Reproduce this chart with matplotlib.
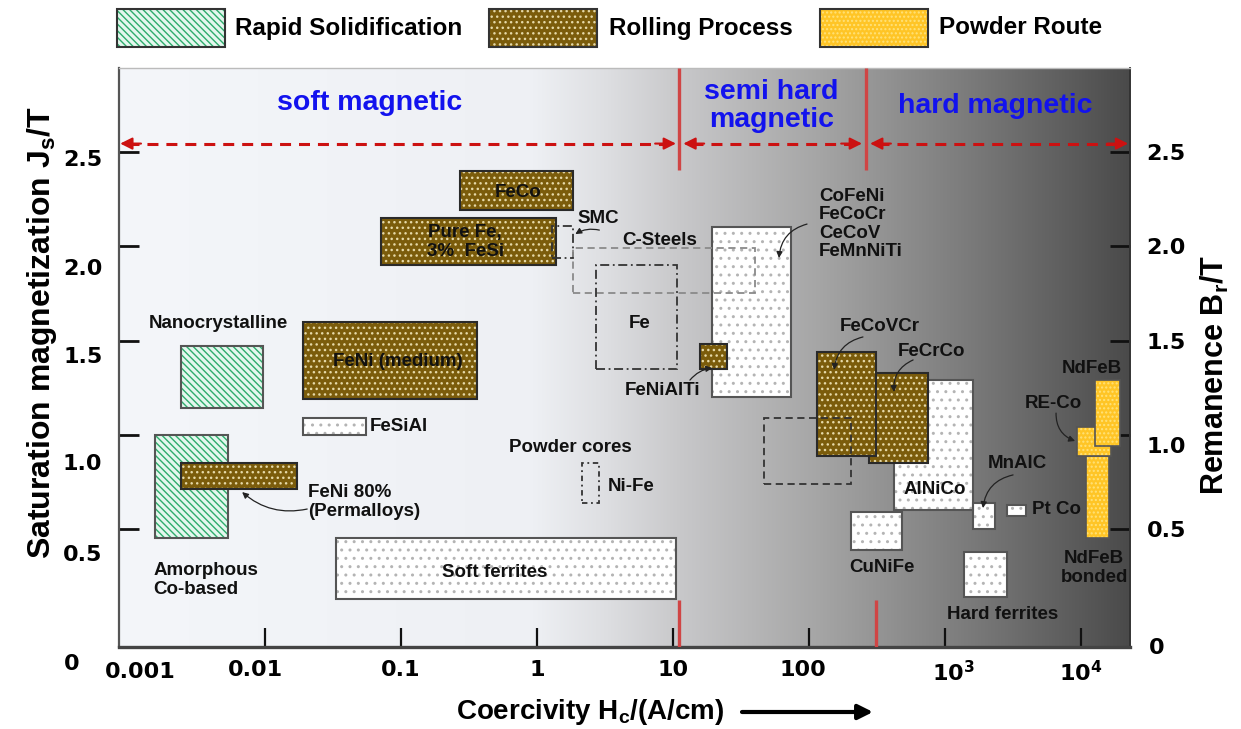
import numpy as np
import matplotlib
matplotlib.use('Agg')
import matplotlib.pyplot as plt
from matplotlib.patches import Rectangle
import matplotlib.transforms as mtransforms

plt.rcParams['font.family'] = ['Liberation Sans', 'DejaVu Sans']
plt.rcParams['font.weight'] = 'bold'
plt.rcParams['hatch.linewidth'] = 1.0

# ---------------- data: coercivity range Hc (A/cm), polarisation range J (T) ----------------
# Rapid solidification
rs_names = ['Nanocrystalline', 'Amorphous Co-based']
rs_hc = [(0.0024, 0.0097), (0.00155, 0.0053)]
rs_j = [(1.14, 1.47), (0.45, 1.00)]

# Rolling process
rp_names = ['FeCo', 'Pure Fe, 3% FeSi', 'FeNi (medium)', 'FeNi 80%', 'FeNiAlTi', 'FeCrCo', 'FeCoVCr']
rp_hc = [(0.27, 1.84), (0.071, 1.38), (0.019, 0.36), (0.0024, 0.0172), (15.8, 25.0), (275, 750), (115, 310)]
rp_j = [(2.19, 2.40), (1.90, 2.15), (1.19, 1.60), (0.71, 0.85), (1.35, 1.48), (0.85, 1.33), (0.89, 1.44)]

# Powder route
pr_names = ['NdFeB bonded', 'RE-Co', 'NdFeB']
pr_hc = [(10900, 16100), (9350, 16600), (12700, 19400)]
pr_j = [(0.45, 0.89), (0.89, 1.04), (0.94, 1.29)]

# Other materials (white dotted)
ot_names = ['FeSiAl', 'Soft ferrites', 'CoFeNi/FeCoCr/CeCoV/FeMnNiTi', 'AlNiCo', 'CuNiFe', 'MnAlC', 'Pt Co', 'Hard ferrites']
ot_hc = [(0.019, 0.055), (0.033, 10.5), (19.4, 74.0), (420, 1600), (204, 483), (1600, 2330), (2860, 3940), (1380, 2860)]
ot_j = [(1.00, 1.09), (0.13, 0.45), (1.20, 2.10), (0.60, 1.29), (0.39, 0.59), (0.50, 0.64), (0.57, 0.63), (0.14, 0.38)]

# Outlined ranges
ol_names = ['SMC', 'C-Steels', 'Fe', 'Powder cores Ni-Fe', 'unlabeled']
ol_hc = [(1.29, 1.84), (1.84, 40.1), (2.72, 10.7), (2.14, 2.86), (46.7, 204)]
ol_j = [(1.94, 2.11), (1.75, 1.99), (1.35, 1.90), (0.64, 0.85), (0.74, 1.09)]

# Region boundaries (A/cm)
bound_top = [11.0, 262]
bound_bottom = [11.0, 311]

x_ticks = [0.001, 0.01, 0.1, 1, 10, 100, 1000, 10000]
x_ticklabels = ['0.001', '0.01', '0.1', '1', '10', '100', r'10$\mathregular{^3}$', r'10$\mathregular{^4}$']
y_ticks = [0.5, 1.0, 1.5, 2.0, 2.5]
y_ticklabels = ['0.5', '1.0', '1.5', '2.0', '2.5']

# ---------------- styles ----------------
BROWN = '#7b5c0b'
BROWN_DOT = '#e6d9a8'
GOLD = '#ffc526'
GOLD_DOT = '#ffe27a'
GREEN_FACE = '#e4f7ee'
GREEN_HATCH = '#2eac6c'
WHITE_DOT = '#b4b4b4'
BLUE = '#1212ee'
RED = '#cc1111'
RED_LINE = '#d04545'

W, H = 1241, 729
fig = plt.figure(figsize=(W / 100, H / 100), dpi=100)
pos = [119 / W, 1 - 647 / H, (1130 - 119) / W, (647 - 68) / H]

# background gradient
bg = fig.add_axes(pos, zorder=0)
stops_f = [0, 0.41, 0.48, 0.555, 0.69, 0.83, 0.95, 1.0]
stops_v = [[244, 246, 250], [238, 240, 244], [222, 223, 226], [200, 200, 202],
           [166, 166, 166], [126, 126, 126], [90, 90, 90], [74, 74, 74]]
f = np.linspace(0, 1, 600)
grad = np.stack([np.interp(f, stops_f, [s[i] for s in stops_v]) for i in range(3)], axis=-1) / 255
bg.imshow(grad[None, :, :], extent=[0, 1, 0, 1], aspect='auto')
bg.set_axis_off()

ax = fig.add_axes(pos, zorder=1)
ax.patch.set_visible(False)
ax.set_xscale('log')


def box(hc, j, face, hatch, hcol, edge, lw=1.5, z=3):
    x0, x1 = hc
    y0, y1 = j
    ax.add_patch(Rectangle((x0, y0), x1 - x0, y1 - y0, facecolor=face, edgecolor=hcol,
                           hatch=hatch, lw=0, zorder=z))
    ax.add_patch(Rectangle((x0, y0), x1 - x0, y1 - y0, fill=False, edgecolor=edge,
                           lw=lw, zorder=z + 0.01))


# white boxes
for hc, j in zip(ot_hc, ot_j):
    box(hc, j, 'white', '..', WHITE_DOT, '#555555', lw=1.5, z=2)

# rapid solidification
for hc, j in zip(rs_hc, rs_j):
    box(hc, j, GREEN_FACE, '\\\\\\\\\\', GREEN_HATCH, '#555555', lw=1.5, z=2.5)

# rolling
rp_z = [3, 3, 3, 3.5, 3.5, 3, 3.2]
for (hc, j), z in zip(zip(rp_hc, rp_j), rp_z):
    box(hc, j, BROWN, '...', BROWN_DOT, '#2a2a2a', lw=1.5, z=z)

# powder route
pr_z = [3, 3.2, 3.4]
for (hc, j), z in zip(zip(pr_hc, pr_j), pr_z):
    box(hc, j, GOLD, '....', GOLD_DOT, '#555555', lw=1.2, z=z)

# outlined ranges
ol_style = [(0, (5, 2, 1, 2)), (0, (4, 2.5)), (0, (5, 2, 1, 2)), (0, (3, 2, 1, 2)), (0, (4, 2.5))]
ol_color = ['#333333', '#8a8a8a', '#333333', '#333333', '#333333']
for hc, j, ls, c in zip(ol_hc, ol_j, ol_style, ol_color):
    ax.add_patch(Rectangle((hc[0], j[0]), hc[1] - hc[0], j[1] - j[0], fill=False,
                           edgecolor=c, lw=1.3, ls=ls, zorder=5))

ax.set_xlim(8.43e-4, 2.29e4)
ax.set_ylim(-0.126, 2.946)

# region boundaries
for xv in bound_top:
    ax.vlines(xv, 2.405, 2.946, color=RED_LINE, lw=2.4, zorder=6)
for xv in bound_bottom:
    ax.vlines(xv, -0.126, 0.123, color=RED_LINE, lw=2.4, zorder=6)

# red dashed double arrows
y_arr = 2.545
for xa, xb in [(8.6e-4, 10.5), (11.9, 245), (281, 2.22e4)]:
    ax.plot([xa * 1.15, xb / 1.15], [y_arr, y_arr], ls=(0, (3.6, 2.6)), color=RED, lw=2.2,
            zorder=6, solid_capstyle='butt')
    ax.annotate('', xy=(xa, y_arr), xytext=(15, 0), textcoords='offset points',
                arrowprops=dict(arrowstyle='-|>', color=RED, lw=1.5, mutation_scale=18,
                                shrinkA=0, shrinkB=0), zorder=6)
    ax.annotate('', xy=(xb, y_arr), xytext=(-15, 0), textcoords='offset points',
                arrowprops=dict(arrowstyle='-|>', color=RED, lw=1.5, mutation_scale=18,
                                shrinkA=0, shrinkB=0), zorder=6)

# region titles
ax.text(0.0591, 2.76, 'soft magnetic', color=BLUE, fontsize=20.5, ha='center', va='center', zorder=7)
ax.text(52.6, 2.744, 'semi hard\nmagnetic', color=BLUE, fontsize=20.5, ha='center', va='center',
        linespacing=1.1, zorder=7)
ax.text(2333, 2.744, 'hard magnetic', color=BLUE, fontsize=20.5, ha='center', va='center', zorder=7)

# labels
FS = 13.5
lab = dict(fontsize=FS, zorder=8, color='#111111')
ax.text(0.724, 2.288, 'FeCo', ha='center', va='center', **lab)
ax.text(0.296, 2.023, 'Pure Fe,\n3%  FeSi', ha='center', va='center', linespacing=1.1, **lab)
ax.text(2.81, 2.150, 'SMC', ha='center', va='center', **lab)
ax.text(8.0, 2.033, 'C-Steels', ha='center', va='center', **lab)
ax.text(5.71, 1.593, 'Fe', ha='center', va='center', **lab)
ax.text(0.0951, 1.391, 'FeNi (medium)', ha='center', va='center', **lab)
ax.text(8.44, 1.237, 'FeNiAlTi', ha='center', va='center', **lab)
ax.text(0.00451, 1.588, 'Nanocrystalline', ha='center', va='center', **lab)
ax.text(0.0591, 1.046, 'FeSiAl', ha='left', va='center', **lab)
ax.text(0.0207, 0.643, 'FeNi 80%\n(Permalloys)', ha='left', va='center', linespacing=1.1, **lab)
ax.text(0.0015, 0.229, 'Amorphous\nCo-based', ha='left', va='center', linespacing=1.1, **lab)
ax.text(1.75, 0.930, 'Powder cores', ha='center', va='center', **lab)
ax.text(3.33, 0.728, 'Ni-Fe', ha='left', va='center', **lab)
ax.text(0.491, 0.267, 'Soft ferrites', ha='center', va='center', **lab)
ax.text(118.6, 2.118, 'CoFeNi\nFeCoCr\nCeCoV\nFeMnNiTi', ha='left', va='center', linespacing=1.12, **lab)
ax.text(333, 1.572, 'FeCoVCr', ha='center', va='center', **lab)
ax.text(789, 1.444, 'FeCrCo', ha='center', va='center', **lab)
ax.text(844, 0.712, 'AlNiCo', ha='center', va='center', **lab)
ax.text(3381, 0.850, 'MnAlC', ha='center', va='center', **lab)
ax.text(4365, 0.601, 'Pt Co', ha='left', va='center', **lab)
ax.text(344, 0.298, 'CuNiFe', ha='center', va='center', **lab)
ax.text(2667, 0.049, 'Hard ferrites', ha='center', va='center', **lab)
ax.text(12050, 1.354, 'NdFeB', ha='center', va='center', **lab)
ax.text(6223, 1.168, 'RE-Co', ha='center', va='center', **lab)
ax.text(12470, 0.293, 'NdFeB\nbonded', ha='center', va='center', linespacing=1.1, **lab)

# pointer arrows (start, end, curvature)
pointers = [((2.87, 2.086), (1.91, 2.065), 0.2),
            ((96.6, 2.118), (60.1, 1.938), 0.35),
            ((13.3, 1.290), (19.4, 1.354), -0.2),
            ((0.0204, 0.606), (0.00678, 0.696), -0.25),
            ((249, 1.519), (153, 1.344), 0.35),
            ((582, 1.397), (422, 1.227), 0.35),
            ((6547, 1.115), (9036, 0.967), 0.35),
            ((3162, 0.787), (1900, 0.611), 0.35)]
for s, e, rad in pointers:
    ax.annotate('', xy=e, xytext=s,
                arrowprops=dict(arrowstyle='-|>', color='#222222', lw=0.9, mutation_scale=9,
                                shrinkA=0, shrinkB=0, connectionstyle=f'arc3,rad={rad}'), zorder=9)

# ticks
ax.set_xticks(x_ticks)
ax.set_xticklabels(x_ticklabels, fontfamily='DejaVu Sans', fontsize=16, fontweight='bold')
ax.xaxis.set_minor_locator(matplotlib.ticker.NullLocator())
ax.set_yticks(y_ticks)
ax.set_yticklabels(y_ticklabels, fontfamily='DejaVu Sans', fontsize=16, fontweight='bold')
ax.tick_params(axis='x', direction='in', length=14, width=1.6, pad=9, color='#111111')
ax.tick_params(axis='y', direction='in', length=14.5, width=2.0, pad=12, color='#111111',
               left=True, right=True, labelleft=True, labelright=True)
ax.xaxis.get_major_ticks()[0].tick1line.set_visible(False)


# offsets of tick labels (pixels)
def shift(label, dx, dy):
    label.set_transform(label.get_transform() +
                        mtransforms.ScaledTranslation(dx / 100, dy / 100, fig.dpi_scale_trans))


xt = ax.xaxis.get_major_ticks()
shift(xt[0].label1, 11, -3)
shift(xt[1].label1, -10, 0)
shift(xt[5].label1, -6, 0)
shift(xt[6].label1, 8, 0)
left_dy = [-24, -27, -14, -21, -6]
right_dy = [0, -10, 0, 0, 0]
for t, dl, dr in zip(ax.yaxis.get_major_ticks(), left_dy, right_dy):
    shift(t.label1, 0, dl)
    shift(t.label2, 0, dr)

ax.spines['left'].set_color('#555555')
ax.spines['left'].set_linewidth(1.6)
ax.spines['bottom'].set_color('#444444')
ax.spines['bottom'].set_linewidth(2.4)
ax.spines['top'].set_color('#bbbbbb')
ax.spines['top'].set_linewidth(1.0)
ax.spines['right'].set_color('#333333')
ax.spines['right'].set_linewidth(1.4)

# zero labels
fig.text(72 / W, 1 - 664 / H, '0', fontfamily='DejaVu Sans', fontsize=16, fontweight='bold',
         ha='center', va='center')
fig.text(1157 / W, 1 - 648 / H, '0', fontfamily='DejaVu Sans', fontsize=16, fontweight='bold',
         ha='center', va='center')

# axis labels
fig.text(42 / W, 1 - 333 / H, r'Saturation magnetization J$\mathregular{_s}$/T', rotation=90,
         fontsize=23, ha='center', va='center')
fig.text(1215 / W, 1 - 375 / H, r'Remanence B$\mathregular{_r}$/T', rotation=90,
         fontsize=22, ha='center', va='center')
fig.text(590 / W, 1 - 712 / H, r'Coercivity H$\mathregular{_c}$/(A/cm)', fontsize=20,
         ha='center', va='center')
ax.annotate('', xy=(873, H - 712), xycoords='figure pixels', xytext=(742, H - 712),
            textcoords='figure pixels', annotation_clip=False,
            arrowprops=dict(arrowstyle='-|>', color='black', lw=3, mutation_scale=22,
                            shrinkA=0, shrinkB=0))

# legend
leg_items = [('Rapid Solidification', GREEN_FACE, '\\\\\\\\\\', GREEN_HATCH, 117, 235),
             ('Rolling Process', BROWN, '...', BROWN_DOT, 489, 609),
             ('Powder Route', GOLD, '....', GOLD_DOT, 820, 939)]
for name, face, hatch, hcol, px, tx in leg_items:
    r1 = Rectangle((px / W, 1 - 47 / H), 108 / W, 38 / H, facecolor=face, edgecolor=hcol,
                   hatch=hatch, lw=0, transform=fig.transFigure)
    r2 = Rectangle((px / W, 1 - 47 / H), 108 / W, 38 / H, fill=False, edgecolor='#333333',
                   lw=1.5, transform=fig.transFigure)
    fig.add_artist(r1)
    fig.add_artist(r2)
    fig.text(tx / W, 1 - 28 / H, name, fontsize=17.5, ha='left', va='center')

fig.savefig('out.png', dpi=100)
